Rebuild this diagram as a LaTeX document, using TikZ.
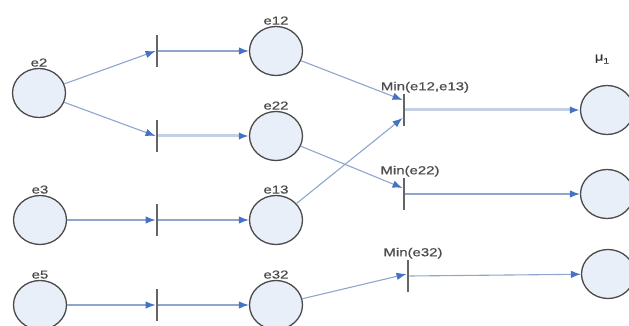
\documentclass[tikz,border=0pt]{standalone}
\usepackage{fontspec}
\usepackage{xcolor}
\usepackage{tikz}
\usetikzlibrary{arrows.meta,shapes.geometric}

\newfontfamily\labfont[FakeStretch=1.3,FakeBold=0.6]{Liberation Sans}
\definecolor{placefill}{HTML}{E9EFF8}
\definecolor{placeline}{HTML}{4A4A4A}
\definecolor{arcline}{HTML}{8EA6CC}
\definecolor{archeavy}{HTML}{C3CFE2}
\definecolor{tipblue}{HTML}{4472C4}

\tikzset{
  place/.style={ellipse,draw=placeline,line width=1.3pt,fill=placefill,
    minimum width=53pt,minimum height=49pt,inner sep=0pt},
  trans/.style={rectangle,fill=placeline!85,draw=none,
    minimum width=2.5pt,minimum height=32pt,inner sep=0pt},
  lab/.style={font=\labfont\fontsize{11.5}{13}\selectfont,text=black!70,inner sep=1pt},
  arc/.style={draw=arcline,line width=1.1pt,
    -{Latex[length=10pt,width=7.5pt,color=tipblue]}},
  heavyarc/.style={arc,draw=archeavy,line width=3pt}
}

\begin{document}
\begin{tikzpicture}[x=1pt,y=-1pt]
    \useasboundingbox (0,0) rectangle (629,326);
    % input places
    \node[place,label={[lab]above:e2}] (e2) at (39,93) {};
    \node[place,label={[lab]above:e3}] (e3) at (40,220) {};
    \node[place,label={[lab]above:e5}] (e5) at (40,305) {};
    % first row of transitions
    \node[trans] (t1) at (157,51) {};
    \node[trans] (t2) at (157,136) {};
    \node[trans] (t3) at (157,220) {};
    \node[trans] (t4) at (157,305) {};
    % middle places
    \node[place,label={[lab]above:e12}] (e12) at (276,51) {};
    \node[place,label={[lab]above:e22}] (e22) at (276,136) {};
    \node[place,label={[lab]above:e13}] (e13) at (276,220) {};
    \node[place,label={[lab]above:e32}] (e32) at (276,305) {};
    % min transitions
    \node[trans,label={[lab,xshift=21pt]above:Min(e12,e13)}] (m1) at (404,110) {};
    \node[trans,label={[lab,xshift=6pt]above:Min(e22)}] (m2) at (404,194) {};
    \node[trans,label={[lab,xshift=5pt]above:Min(e32)}] (m3) at (408,276) {};
    % output places
    \node[place,label={[lab,text=black!80,label distance=20pt,xshift=-5pt]above:%
      μ\raisebox{-0.5ex}{\footnotesize 1}}] (p1) at (607,110) {};
    \node[place] (p2) at (607,194) {};
    \node[place] (p3) at (608,274) {};

    \draw[arc] (e2) -- (t1.west);
    \draw[arc] (e2) -- (t2.west);
    \draw[arc] (e3) -- (t3.west);
    \draw[arc] (e5) -- (t4.west);
    \draw[arc] (t1.east) -- (e12);
    \draw[heavyarc] (t2.east) -- (e22);
    \draw[arc] (t3.east) -- (e13);
    \draw[arc] (t4.east) -- (e32);
    \draw[arc] (e12) -- ([yshift=10pt]m1.west);
    \draw[arc] (e13) -- ([yshift=-8pt]m1.west);
    \draw[arc] (e22) -- ([yshift=6pt]m2.west);
    \draw[arc] (e32) -- ([yshift=2pt]m3.west);
    \draw[heavyarc] (m1.east) -- (p1);
    \draw[arc] (m2.east) -- (p2);
    \draw[arc] (m3.east) -- (p3);
\end{tikzpicture}
\end{document}
